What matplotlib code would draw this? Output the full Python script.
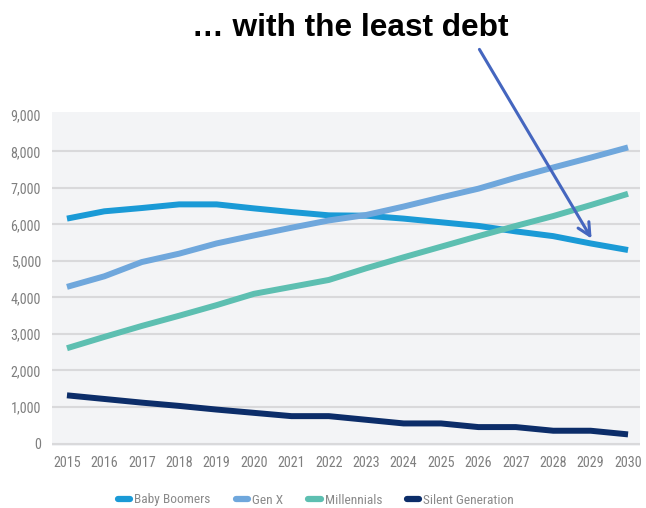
import matplotlib
matplotlib.use("Agg")
import matplotlib.pyplot as plt
from matplotlib.lines import Line2D
from matplotlib import font_manager

years = list(range(2015, 2031))
baby_boomers = [6160, 6360, 6450, 6550, 6550, 6440, 6340, 6250, 6240, 6160, 6060, 5960, 5810, 5680, 5480, 5300]
gen_x = [4290, 4580, 4970, 5200, 5480, 5700, 5910, 6110, 6260, 6490, 6740, 6980, 7280, 7560, 7830, 8110]
millennials = [2610, 2920, 3220, 3500, 3790, 4100, 4290, 4480, 4800, 5100, 5390, 5680, 5960, 6230, 6530, 6840]
silent_gen = [1320, 1220, 1120, 1030, 930, 840, 750, 750, 650, 550, 550, 450, 450, 350, 350, 250]
series_names = ["Baby Boomers", "Gen X", "Millennials", "Silent Generation"]
series_colors = ["#1a9ad6", "#6fa7dc", "#5dbfb1", "#0c2d69"]
yticks = [0, 1000, 2000, 3000, 4000, 5000, 6000, 7000, 8000, 9000]
title_text = "\u2026 with the least debt"

# choose a condensed font when one is installed
names = {f.name for f in font_manager.fontManager.ttflist}
candidates = [("Roboto Condensed", 10.2, 9.6), ("Liberation Sans Narrow", 10.2, 9.6),
              ("DejaVu Sans Condensed", 9.2, 8.6), ("Open Sans Condensed", 10.2, 9.6)]
narrow, tick_size, leg_size = "Liberation Sans", 9.0, 8.4
for n, sz, lsz in candidates:
    if n in names:
        narrow, tick_size, leg_size = n, sz, lsz
        break

W, H = 646, 508
fig = plt.figure(figsize=(W / 100, H / 100), dpi=100)
fig.patch.set_facecolor("white")

left, right, top, bottom = 52, 640, 112, 446
ax = fig.add_axes([left / W, 1 - bottom / H, (right - left) / W, (bottom - top) / H])
ax.set_facecolor("#f3f4f6")
ax.set_xlim(2014.6, 2030.32)
ax.set_ylim(-68, 9080)

for t in yticks[:-1]:
    ax.axhline(t, color="#d9d9db", lw=1.5, zorder=1)

data = [baby_boomers, gen_x, millennials, silent_gen]
for vals, c in zip(data, series_colors):
    ax.plot(years, vals, color=c, lw=4.3, solid_capstyle="butt", zorder=3)

for s in ax.spines.values():
    s.set_visible(False)
ax.tick_params(length=0)
ax.set_xticks(years)
ax.set_xticklabels([str(y) for y in years], fontsize=tick_size, color="#7f7f7f",
                   family=narrow)
ax.set_yticks(yticks)
ax.set_yticklabels([f"{v:,}" for v in yticks], fontsize=tick_size, color="#7f7f7f",
                   family=narrow)
ax.tick_params(axis="y", pad=8)
ax.tick_params(axis="x", pad=7)

# legend
handles = [Line2D([0], [0], color=c, lw=4.5, solid_capstyle="round") for c in series_colors]
leg = fig.legend(handles, series_names, loc="center", bbox_to_anchor=(316 / W, 1 - 500 / H),
                 ncol=4, frameon=False, handlelength=0.95, columnspacing=1.85,
                 handletextpad=0.3, prop={"size": leg_size, "family": narrow})
for t in leg.get_texts():
    t.set_color("#8a8a8a")

# title
fig.text(350 / W, 1 - 28 / H, title_text, ha="center", va="center",
         fontsize=22.8, fontweight="bold", family="Liberation Sans", color="black")

# arrow
fig.add_artist(matplotlib.patches.FancyArrowPatch(
    posA=(478 / W, 1 - 47 / H), posB=(593 / W, 1 - 241 / H),
    transform=fig.transFigure, arrowstyle="->,head_length=9,head_width=4.5",
    color="#4566bf", lw=2.2, mutation_scale=1))

fig.savefig("out.png", dpi=100)
